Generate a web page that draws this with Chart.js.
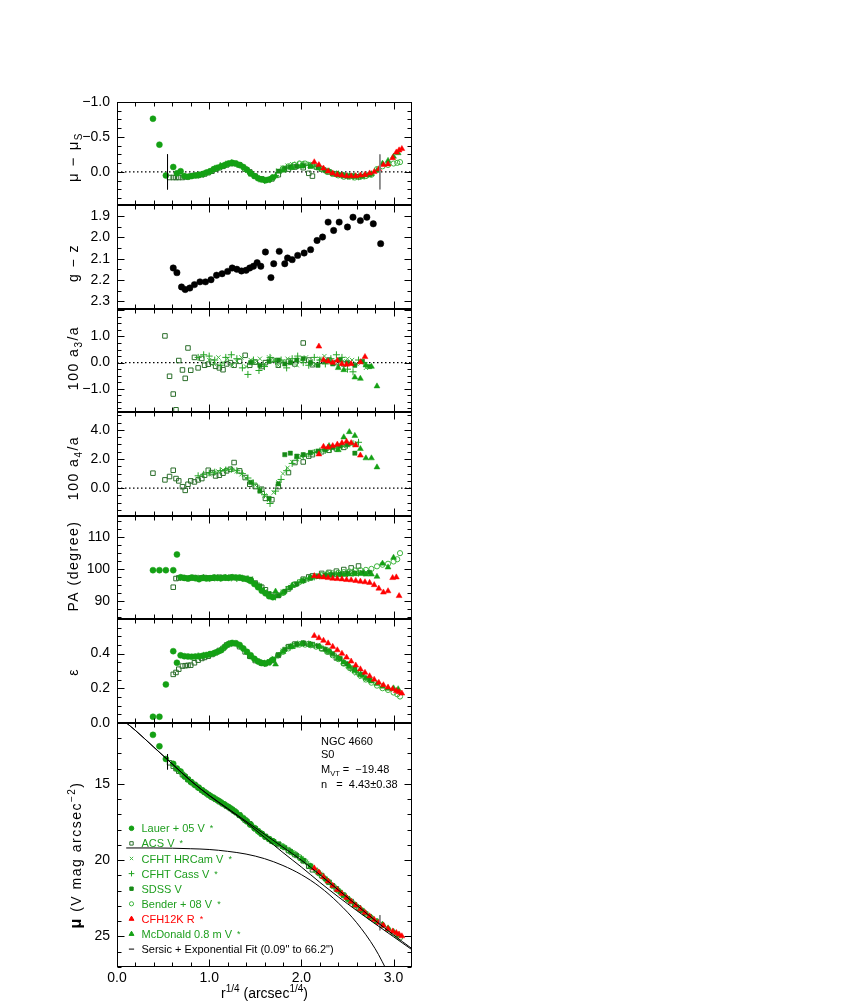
<!DOCTYPE html>
<html>
<head>
<meta charset="utf-8">
<script src="https://cdn.jsdelivr.net/npm/chart.js@4.4.0/dist/chart.umd.min.js"></script>
<style>
  html, body { margin: 0; background: #fff; }
  #wrap { position: relative; width: 850px; height: 1004px; }
</style>
</head>
<body>
<div id="wrap"><canvas id="c" width="850" height="1004"></canvas></div>
<script>
// ---- data (x = r^1/4 in arcsec^1/4) ----
// Lauer + 05 V
const lauerR   = [0.39,0.46,0.53,0.61,0.65,0.69,0.73,0.77,0.81,0.85,0.89,0.93,0.97,1.01,1.05,1.09,1.13,1.17,1.21,1.25,1.29,1.33,1.37,1.41,1.45,1.49,1.53,1.57,1.61,1.65,1.69];
const lauerMu  = [11.79,12.54,13.37,13.69,14.0,14.19,14.48,14.71,14.91,15.09,15.27,15.45,15.62,15.78,15.92,16.07,16.22,16.37,16.52,16.68,16.86,17.05,17.25,17.46,17.68,17.89,18.09,18.28,18.46,18.62,18.76];
const lauerRes = [-0.76,-0.39,0.05,-0.07,0.02,-0.01,0.06,0.07,0.06,0.05,0.04,0.03,0.01,-0.01,-0.04,-0.06,-0.08,-0.10,-0.12,-0.13,-0.12,-0.10,-0.07,-0.03,0.02,0.06,0.09,0.11,0.12,0.11,0.08];
const lauerPA  = [99.6,99.6,99.6,99.6,104.5,97.4,97.2,97.0,97.3,97.1,96.8,97.2,97.0,97.1,97.3,97.2,97.1,97.3,97.2,97.4,97.3,97.3,97.0,96.8,96.2,95.3,94.3,93.2,92.4,91.5,91.2];
const lauerEps = [0.035,0.035,0.222,0.414,0.347,0.39,0.385,0.383,0.382,0.383,0.385,0.388,0.392,0.397,0.402,0.41,0.42,0.44,0.455,0.462,0.46,0.45,0.43,0.41,0.39,0.37,0.355,0.345,0.343,0.35,0.365];

// ACS V
const acsR   = [0.39,0.52,0.57,0.61,0.64,0.67,0.71,0.74,0.77,0.80,0.84,0.88,0.92,0.95,0.99,1.03,1.07,1.11,1.15,1.19,1.23,1.27,1.33,1.39,1.44,1.50,1.57,1.61,1.68,1.75,1.86,1.93,2.02,2.08,2.12,2.22,2.30,2.38,2.46,2.54,2.62];
const acsMu  = [null,null,13.62,13.84,14.0,14.17,14.39,14.54,14.71,14.86,15.04,15.23,15.41,15.54,15.71,15.87,16.01,16.16,16.31,16.46,16.61,16.78,17.05,17.37,17.62,17.94,18.27,18.46,18.74,18.98,19.37,19.63,20.04,20.4,20.63,21.01,21.45,21.88,22.3,22.71,23.12];
const acsRes = [null,null,0.08,0.08,0.08,0.08,0.08,0.07,0.07,0.06,0.05,0.05,0.04,0.03,0.01,-0.01,-0.04,-0.06,-0.08,-0.10,-0.12,-0.12,-0.10,-0.04,0.0,0.06,0.10,0.12,0.10,0.04,-0.04,-0.07,-0.06,0.02,0.06,-0.04,0.0,0.03,0.05,0.06,0.07];
const acsA3  = [null,1.02,-0.52,-1.2,-1.8,0.08,-0.28,-0.6,0.56,-0.29,0.2,-0.2,0.16,-0.1,-0.06,0.02,-0.14,-0.2,-0.27,-0.05,0.0,-0.1,0.05,0.28,-0.1,0.02,-0.15,0.0,0.1,-0.1,0.05,-0.05,0.75,0.1,-0.08,0.05,0.1,0.0,-0.05,null,null];
const acsA4  = [1.03,0.57,0.8,1.23,0.66,0.5,0.1,-0.15,0.27,0.5,0.43,0.57,0.66,0.89,1.23,1.07,0.84,0.89,1.03,1.19,1.3,1.76,1.19,0.73,0.27,0.11,-0.07,-0.7,-0.79,0.11,1.07,1.76,1.8,2.2,2.3,2.5,2.6,2.7,2.8,null,null];
const acsPA  = [null,null,null,94.3,97.0,97.2,97.3,97.1,97.0,97.2,97.3,97.1,97.2,97.3,97.2,97.1,97.3,97.4,97.3,97.2,97.4,97.3,97.2,97.0,96.5,95.6,94.3,93.5,91.8,91.8,93.8,95.2,96.8,97.5,97.8,98.6,98.9,99.3,99.8,100.3,100.9];
const acsEps = [null,null,null,0.28,0.291,0.31,0.328,0.33,0.332,0.333,0.347,0.362,0.372,0.378,0.385,0.395,0.405,0.418,0.43,0.45,0.46,0.458,0.44,0.41,0.385,0.36,0.345,0.343,0.36,0.39,0.44,0.455,0.46,0.455,0.45,0.43,0.41,0.375,0.345,0.315,0.29];

// CFHT HRCam V
const hrcR   = [1.00,1.05,1.10,1.15,1.20,1.25,1.30,1.35,1.40,1.45,1.50,1.55,1.60,1.65,1.70,1.75,1.80,1.85,1.90,1.95,2.00,2.05,2.10,2.15,2.20,2.25,2.30,2.35,2.40,2.45,2.50,2.55,2.60,2.65,2.70];
const hrcMu  = [15.75,15.93,16.11,16.30,16.48,16.68,16.92,17.16,17.42,17.68,17.95,18.19,18.41,18.61,18.79,18.92,19.09,19.27,19.47,19.67,19.87,20.12,20.37,20.62,20.89,21.17,21.45,21.73,22.0,22.26,22.52,22.77,23.02,23.26,23.5];
const hrcRes = [0.0,-0.03,-0.07,-0.09,-0.12,-0.13,-0.11,-0.08,-0.03,0.02,0.07,0.10,0.11,0.10,0.06,-0.02,-0.06,-0.09,-0.11,-0.12,-0.13,-0.12,-0.11,-0.09,-0.06,-0.03,0.0,0.03,0.05,0.06,0.07,0.07,0.07,0.06,0.05];
const hrcA3  = [0.1,-0.05,0.2,0.0,0.15,-0.1,0.05,0.2,-0.15,0.1,0.0,0.15,-0.05,0.2,0.1,-0.1,0.05,0.15,0.0,-0.1,0.1,0.2,0.05,-0.05,0.15,0.25,0.1,0.0,-0.1,0.05,0.15,0.1,-0.05,0.0,-0.2];
const hrcA4  = [0.95,1.05,1.15,1.25,1.3,1.25,1.15,0.95,0.7,0.45,0.2,-0.1,-0.5,-0.8,-0.3,0.4,1.0,1.4,1.8,2.0,2.2,2.3,2.4,2.5,2.55,2.6,2.7,2.8,2.85,2.9,2.95,3.0,3.1,null,null];
const hrcPA  = [97.2,97.3,97.1,97.2,97.4,97.3,97.2,97.1,97.2,97.0,95.5,94.3,93.0,92.0,91.5,92.0,93.0,94.0,94.8,95.5,96.2,96.8,97.2,97.6,97.9,98.1,98.2,98.3,98.4,98.5,98.6,98.7,98.8,98.9,99.0];
const hrcEps = [0.395,0.402,0.413,0.428,0.447,0.458,0.455,0.435,0.41,0.385,0.362,0.35,0.345,0.355,0.375,0.395,0.418,0.435,0.448,0.455,0.46,0.46,0.456,0.45,0.44,0.425,0.41,0.392,0.372,0.35,0.328,0.305,0.285,0.265,0.247];

// CFHT Cass V
const cassR   = [0.88,0.94,1.00,1.06,1.12,1.18,1.24,1.30,1.36,1.42,1.48,1.54,1.60,1.66,1.72,1.78,1.84,1.90,1.96,2.02,2.08,2.14,2.20,2.26,2.32,2.38,2.44,2.50,2.56,2.62,2.68];
const cassMu  = [15.23,15.49,15.75,15.95,16.17,16.41,16.64,16.92,17.21,17.52,17.84,18.15,18.42,18.67,18.86,19.05,19.26,19.50,19.74,20.0,20.29,20.59,20.90,21.23,21.56,21.88,22.20,22.51,22.82,23.12,23.41];
const cassRes = [0.05,0.03,0.0,-0.05,-0.09,-0.11,-0.13,-0.11,-0.07,-0.02,0.05,0.10,0.12,0.11,0.05,-0.02,-0.06,-0.08,-0.09,-0.10,-0.09,-0.08,-0.05,-0.02,0.01,0.03,0.05,0.06,0.07,0.07,0.06];
const cassA3  = [0.2,0.3,0.25,0.1,-0.1,0.2,0.3,0.15,-0.2,-0.45,0.1,-0.3,-0.15,0.2,0.05,0.1,-0.2,0.15,0.25,0.0,-0.1,0.2,0.1,-0.05,0.15,0.3,0.2,-0.25,-0.35,0.1,0.0];
const cassA4  = [0.85,0.95,1.05,1.1,1.2,1.25,1.3,1.2,1.0,0.7,0.35,0.0,-0.45,-1.05,-0.2,0.6,1.2,1.7,2.05,2.2,2.35,2.45,2.55,2.6,2.7,2.75,2.85,2.95,3.05,3.15,null];
const cassPA  = [97.1,97.3,97.0,97.2,97.1,97.3,97.2,97.0,97.1,96.9,96.0,94.8,93.2,92.0,91.3,92.3,93.6,94.8,95.6,96.4,97.0,97.5,97.8,98.0,98.2,98.3,98.4,98.5,98.6,98.7,98.8];
const cassEps = [0.386,0.39,0.395,0.404,0.418,0.44,0.458,0.455,0.43,0.4,0.37,0.352,0.344,0.35,0.375,0.405,0.43,0.445,0.455,0.458,0.455,0.448,0.438,0.42,0.4,0.38,0.358,0.335,0.31,0.288,0.265];

// SDSS V
const sdssR   = [1.45,1.55,1.65,1.75,1.82,1.88,1.95,2.02,2.10,2.18,2.26,2.34,2.42,2.50,2.58,2.66,2.74];
const sdssMu  = [17.69,18.19,18.62,18.93,19.19,19.42,19.71,20.01,20.40,20.80,21.23,21.67,22.09,22.51,22.91,23.31,23.69];
const sdssRes = [0.03,0.10,0.11,-0.01,-0.05,-0.07,-0.08,-0.09,-0.08,-0.06,-0.02,0.02,0.04,0.06,0.06,0.06,0.04];
const sdssA3  = [0.0,-0.1,0.05,0.1,-0.05,0.0,0.1,0.15,0.0,-0.1,0.05,-0.05,0.1,0.0,-0.1,0.05,-0.15];
const sdssA4  = [0.4,-0.2,-0.7,0.3,2.3,2.4,2.2,2.3,2.45,2.55,2.65,2.8,2.9,3.0,2.4,null,null];
const sdssPA  = [96.8,94.7,92.3,91.6,93.0,94.2,95.3,96.3,97.1,97.7,98.0,98.2,98.4,98.6,98.7,98.8,98.9];
const sdssEps = [0.382,0.352,0.352,0.393,0.425,0.442,0.455,0.46,0.455,0.445,0.425,0.4,0.372,0.34,0.31,0.28,0.25];

// Bender + 08 V
const bendR   = [1.80,1.86,1.92,1.98,2.04,2.10,2.16,2.22,2.28,2.34,2.40,2.46,2.52,2.58,2.64,2.70,2.76,2.82,2.88,2.94,3.00,3.04,3.07];
const bendMu  = [19.10,19.33,19.56,19.80,20.07,20.38,20.69,21.01,21.35,21.68,22.00,22.32,22.62,22.93,23.22,23.51,23.79,24.01,24.25,24.52,24.78,24.95,25.08];
const bendRes = [-0.05,-0.08,-0.10,-0.12,-0.12,-0.10,-0.07,-0.04,0.0,0.03,0.05,0.07,0.07,0.08,0.07,0.06,0.04,-0.04,-0.08,-0.10,-0.12,-0.13,-0.14];
const bendPA  = [92.5,93.8,95.0,95.9,96.6,97.2,97.7,98.1,98.4,98.6,98.8,99.0,99.2,99.5,99.6,99.7,100.0,100.8,101.3,101.6,102.3,103.0,104.9];
const bendEps = [0.41,0.43,0.445,0.452,0.452,0.448,0.44,0.428,0.41,0.39,0.368,0.342,0.318,0.295,0.272,0.25,0.232,0.215,0.2,0.19,0.175,0.165,0.152];

// CFH12K R
const cfhR   = [2.14,2.19,2.24,2.29,2.34,2.39,2.44,2.49,2.54,2.59,2.64,2.69,2.74,2.79,2.84,2.89,2.94,2.99,3.03,3.06,3.09];
const cfhMu  = [20.53,20.80,21.10,21.39,21.67,21.94,22.20,22.46,22.71,22.96,23.20,23.44,23.67,23.90,24.10,24.28,24.51,24.66,24.76,24.86,24.98];
const cfhRes = [-0.14,-0.10,-0.05,-0.01,0.02,0.04,0.05,0.06,0.06,0.06,0.05,0.04,0.02,0.0,-0.04,-0.10,-0.11,-0.20,-0.28,-0.31,-0.33];
const cfhA3  = [null,0.62,0.1,0.05,0.0,0.08,-0.05,-0.07,-0.05,null,0.02,0.22,null,null,null,null,null,null,null,null,null];
const cfhA4  = [null,2.33,2.85,2.8,2.9,3.0,3.1,3.2,3.1,2.95,2.25,null,null,null,null,null,null,null,null,null,null];
const cfhPA  = [97.8,97.6,97.4,97.2,97.0,96.9,96.8,96.6,96.5,96.3,96.1,95.9,95.7,95.0,93.9,92.7,93.1,97.2,97.4,91.6,null];
const cfhEps = [0.503,0.49,0.475,0.46,0.44,0.42,0.4,0.378,0.355,0.332,0.31,0.29,0.27,0.25,0.232,0.218,0.205,0.195,0.185,0.178,0.17];

// McDonald 0.8 m V
const mcdR   = [1.72,1.80,1.90,2.00,2.10,2.20,2.30,2.40,2.46,2.52,2.58,2.64,2.70,2.76,2.82,2.88,2.94,3.00,3.05];
const mcdMu  = [18.87,19.13,19.52,19.92,20.40,20.90,21.44,21.98,22.30,22.61,22.91,23.21,23.50,23.78,24.03,24.21,24.46,24.68,24.90];
const mcdRes = [0.06,-0.02,-0.06,-0.08,-0.08,-0.05,-0.01,0.03,0.05,0.06,0.06,0.06,0.05,0.03,-0.02,-0.12,-0.16,-0.22,-0.27];
const mcdA3  = [null,null,null,null,null,null,0.05,-0.2,-0.28,null,-0.56,-0.61,-0.1,-0.15,-0.9,null,null,null,null];
const mcdA4  = [null,null,null,null,null,null,2.9,2.62,3.5,3.86,3.6,2.7,2.06,2.06,1.44,null,null,null,null];
const mcdPA  = [93.0,92.5,94.8,96.2,97.3,97.8,98.0,98.1,98.2,98.3,98.4,98.5,98.3,98.3,97.6,101.7,100.5,103.5,null];
const mcdEps = [0.338,0.41,0.44,0.455,0.452,0.44,0.415,0.375,0.35,0.325,0.3,0.278,0.258,0.24,0.225,0.21,0.198,0.2,0.195];

// g - z colour profile
const gzR = [0.61,0.65,0.70,0.74,0.79,0.84,0.90,0.96,1.02,1.08,1.14,1.20,1.25,1.30,1.35,1.40,1.44,1.48,1.52,1.56,1.61,1.67,1.70,1.76,1.82,1.85,1.90,1.96,2.03,2.10,2.17,2.23,2.29,2.35,2.41,2.50,2.56,2.64,2.71,2.78,2.86];
const gzVal = [2.143,2.165,2.232,2.244,2.237,2.221,2.208,2.208,2.198,2.177,2.170,2.159,2.143,2.149,2.157,2.154,2.143,2.135,2.118,2.135,2.068,2.188,2.123,2.065,2.123,2.096,2.104,2.084,2.073,2.057,2.014,1.998,1.928,1.967,1.928,1.951,1.905,1.921,1.905,1.936,2.029];

// fit curves (Sersic + exponential)
const fitR      = [0.1,0.2,0.4,0.6,0.8,1.0,1.2,1.4,1.6,1.8,2.0,2.2,2.4,2.6,2.8,3.0,3.2];
const fitTotal  = [11.0,11.5,12.6,13.7,14.8,15.75,16.6,17.45,18.3,19.15,20.0,20.95,21.95,22.95,23.95,24.9,25.8];
const fitSersic = [11.0,11.5,12.6,13.7,14.8,15.77,16.65,17.53,18.5,19.5,20.45,21.45,22.4,23.3,24.17,25.02,25.87];
const expR      = [0.1,0.4,0.8,1.0,1.2,1.4,1.6,1.8,2.0,2.2,2.4,2.6,2.8,2.95];
const fitExp    = [19.2,19.2,19.25,19.3,19.42,19.6,19.9,20.35,20.95,21.75,22.8,24.1,25.8,27.5];
const fitLimits = [0.548, 2.852];   // 0.09" and 66.2"
const resLimitSpan = [-0.25, 0.25];
const muInnerSpan = [13.05, 14.05];
const muOuterSpan = [23.6, 24.6];
const zeroR = [0, 3.2];

const GREEN = '#1e9e1e';
const C = {
  lauer: '#14a014', acs: '#2b6e2b', hrc: '#46b846', cass: '#24a424',
  sdss: '#178a17', bend: '#3cb43c', cfh: '#ff0000', mcd: '#14a014'
};

function pts(xs, ys) {
  const out = [];
  xs.forEach((x, i) => { if (ys[i] != null) out.push({x: x, y: ys[i]}); });
  return out;
}
function marks(label, xs, cols, style) {
  return Object.keys(cols).map(axis => Object.assign({
    label: label, xAxisID: 'x', yAxisID: axis, data: pts(xs, cols[axis]), showLine: false
  }, style));
}
function line(xs, ys, axis, extra) {
  return Object.assign({
    xAxisID: 'x', yAxisID: axis, data: pts(xs, ys), showLine: true,
    borderColor: '#000', borderWidth: 1, pointRadius: 0, fill: false
  }, extra || {});
}

const filled = (c, s, r) => ({pointStyle: s, pointRadius: r, backgroundColor: c, borderColor: c, borderWidth: 0.5});
const open = (c, s, r) => ({pointStyle: s, pointRadius: r, backgroundColor: 'rgba(0,0,0,0)', borderColor: c, borderWidth: 1});

const datasets = [
  line(fitR, fitTotal, 'yMu', {cubicInterpolationMode: 'monotone'}),
  line(fitR, fitSersic, 'yMu', {cubicInterpolationMode: 'monotone'}),
  line(expR, fitExp, 'yMu', {cubicInterpolationMode: 'monotone'}),
  line([fitLimits[0], fitLimits[0]], resLimitSpan, 'yRes'),
  line([fitLimits[1], fitLimits[1]], resLimitSpan, 'yRes', {borderColor: '#808080'}),
  line([fitLimits[0], fitLimits[0]], muInnerSpan, 'yMu'),
  line([fitLimits[1], fitLimits[1]], muOuterSpan, 'yMu', {borderColor: '#808080'}),
  ...marks('CFH12K R', cfhR, {yMu: cfhMu, yRes: cfhRes, yA3: cfhA3, yA4: cfhA4, yPA: cfhPA, yEps: cfhEps}, filled(C.cfh, 'triangle', 3.4)),
  ...marks('McDonald', mcdR, {yMu: mcdMu, yRes: mcdRes, yA3: mcdA3, yA4: mcdA4, yPA: mcdPA, yEps: mcdEps}, filled(C.mcd, 'triangle', 3.4)),
  ...marks('Lauer', lauerR, {yMu: lauerMu, yRes: lauerRes, yPA: lauerPA, yEps: lauerEps}, filled(C.lauer, 'circle', 3)),
  ...marks('SDSS', sdssR, {yMu: sdssMu, yRes: sdssRes, yA3: sdssA3, yA4: sdssA4, yPA: sdssPA, yEps: sdssEps}, filled(C.sdss, 'rect', 3)),
  ...marks('Cass', cassR, {yMu: cassMu, yRes: cassRes, yA3: cassA3, yA4: cassA4, yPA: cassPA, yEps: cassEps}, open(C.cass, 'cross', 3.5)),
  ...marks('HRCam', hrcR, {yMu: hrcMu, yRes: hrcRes, yA3: hrcA3, yA4: hrcA4, yPA: hrcPA, yEps: hrcEps}, open(C.hrc, 'crossRot', 3)),
  ...marks('Bender', bendR, {yMu: bendMu, yRes: bendRes, yPA: bendPA, yEps: bendEps}, open(C.bend, 'circle', 2.6)),
  ...marks('ACS', acsR, {yMu: acsMu, yRes: acsRes, yA3: acsA3, yA4: acsA4, yPA: acsPA, yEps: acsEps}, open(C.acs, 'rect', 3.2)),
  ...marks('g-z', gzR, {yGZ: gzVal}, filled('#000', 'circle', 3.2)),
  line(zeroR, [0, 0], 'yRes', {borderDash: [1.5, 2.5], borderWidth: 1.2}),
  line(zeroR, [0, 0], 'yA3', {borderDash: [1.5, 2.5], borderWidth: 1.2}),
  line(zeroR, [0, 0], 'yA4', {borderDash: [1.5, 2.5], borderWidth: 1.2})
];

const minus = v => (v < -1e-9 ? '\u2212' : '') + Math.abs(v).toFixed(1);
const tickFont = {size: 14, family: 'Liberation Sans'};
function yAxis(opts) {
  const t = Object.assign({padding: 7, autoSkip: false, includeBounds: false, color: '#000', font: tickFont}, opts.ticks);
  return Object.assign({
    type: 'linear', position: 'left', stack: 'panels', stackWeight: 1,
    grid: {display: false, drawTicks: false}, border: {display: false},
    afterFit: s => { s.width = 117; }
  }, opts, {ticks: t});
}

// bottom panel first: the last-declared stacked axis is placed on top
const scales = {
  x: {
    type: 'linear', position: 'bottom', min: 0, max: 3.2,
    grid: {display: false, drawTicks: false}, border: {display: false},
    ticks: {stepSize: 1, includeBounds: false, padding: 3, color: '#000', font: tickFont,
            callback: v => v.toFixed(1)},
    afterFit: s => { s.height = 37; }
  },
  yMu:  yAxis({min: 11, max: 27, reverse: true, stackWeight: 2.36, ticks: {stepSize: 5, callback: v => String(v)}}),
  yEps: yAxis({min: 0, max: 0.598, ticks: {stepSize: 0.2, callback: v => v.toFixed(1)}}),
  yPA:  yAxis({min: 84.3, max: 116.5, ticks: {stepSize: 10, callback: v => String(Math.round(v))}}),
  yA4:  yAxis({min: -1.9, max: 5.2, ticks: {stepSize: 2, callback: minus}}),
  yA3:  yAxis({min: -1.9, max: 2.05, ticks: {stepSize: 1, callback: v => (v > 1.5 ? '' : minus(v))}}),
  yGZ:  yAxis({min: 1.85, max: 2.335, reverse: true, ticks: {stepSize: 0.1, callback: v => v.toFixed(1)}}),
  yRes: yAxis({min: -1.0, max: 0.48, reverse: true, ticks: {stepSize: 0.5, callback: minus}})
};

const panelIds = ['yRes', 'yGZ', 'yA3', 'yA4', 'yPA', 'yEps', 'yMu'];
const minorStep = {yRes: 0.125, yGZ: 0.05, yA3: 0.25, yA4: 0.5, yPA: 2.5, yEps: 0.05, yMu: 1};

const framePlugin = {
  id: 'frames',
  afterDraw(chart) {
    const ctx = chart.ctx, ca = chart.chartArea, xs = chart.scales.x;
    const L = Math.round(ca.left) + 0.5, R = Math.round(ca.right) - 0.5;
    ctx.save();
    ctx.strokeStyle = '#000';
    ctx.lineWidth = 1;
    panelIds.forEach(id => {
      const s = chart.scales[id];
      const top = Math.round(s.top) + 0.5, bot = Math.round(s.bottom) - 0.5;
      ctx.strokeRect(L, top, R - L, bot - top);
      ctx.beginPath();
      for (let i = 1; i < 16; i++) {
        const px = Math.round(xs.getPixelForValue(i * 0.2)) + 0.5;
        const len = i % 5 === 0 ? 7 : 4;
        ctx.moveTo(px, top); ctx.lineTo(px, top + len);
        ctx.moveTo(px, bot); ctx.lineTo(px, bot - len);
      }
      const lo = Math.min(s.min, s.max), hi = Math.max(s.min, s.max), m = minorStep[id];
      for (let k = Math.ceil(lo / m - 1e-6); k * m <= hi + 1e-9; k++) {
        const v = k * m;
        const major = s.ticks.some(t => Math.abs(t.value - v) < 1e-6);
        const len = major ? 7 : 4;
        const py = Math.round(s.getPixelForValue(v)) + 0.5;
        ctx.moveTo(L, py); ctx.lineTo(L + len, py);
        ctx.moveTo(R, py); ctx.lineTo(R - len, py);
      }
      ctx.stroke();
    });
    ctx.restore();
  }
};

function rich(ctx, parts, x, y, align) {
  let w = 0;
  parts.forEach(p => { ctx.font = (p[3] || '') + ' ' + p[1] + 'px "Liberation Sans"'; w += ctx.measureText(p[0]).width; });
  let cx = align === 'center' ? x - w / 2 : x;
  parts.forEach(p => {
    ctx.font = (p[3] || '') + ' ' + p[1] + 'px "Liberation Sans"';
    ctx.fillText(p[0], cx, y + (p[2] || 0));
    cx += ctx.measureText(p[0]).width;
  });
}

const titles = [
  {parts: [['\u03bc \u2212 \u03bc', 15], ['S', 10, 4]], y: 157},
  {parts: [['g \u2212 z', 14]], y: 263},
  {parts: [['100 a', 14], ['3', 10, 4], ['/a', 14]], y: 358},
  {parts: [['100 a', 14], ['4', 10, 4], ['/a', 14]], y: 468},
  {parts: [['PA (degree)', 14]], y: 566},
  {parts: [['\u03b5', 14]], y: 672},
  {parts: [['\u03bc', 16, 0, 'bold'], [' (V mag arcsec', 14], ['\u22122', 10, -6], [')', 14]], y: 855, x: 81}
];

const legendRows = [
  {st: 'circle', r: 2.3, fill: C.lauer, stroke: C.lauer, col: GREEN, text: 'Lauer + 05 V', star: true},
  {st: 'rect', r: 2.4, fill: 'rgba(0,0,0,0)', stroke: C.acs, col: GREEN, text: 'ACS V', star: true},
  {st: 'crossRot', r: 2.3, fill: 'rgba(0,0,0,0)', stroke: C.hrc, col: GREEN, text: 'CFHT HRCam V', star: true},
  {st: 'cross', r: 2.8, fill: 'rgba(0,0,0,0)', stroke: C.cass, col: GREEN, text: 'CFHT Cass V', star: true},
  {st: 'rect', r: 2.4, fill: C.sdss, stroke: C.sdss, col: GREEN, text: 'SDSS V', star: false},
  {st: 'circle', r: 2.1, fill: 'rgba(0,0,0,0)', stroke: C.bend, col: GREEN, text: 'Bender + 08 V', star: true},
  {st: 'triangle', r: 2.8, fill: C.cfh, stroke: C.cfh, col: '#ff0000', text: 'CFH12K R', star: true},
  {st: 'triangle', r: 2.8, fill: C.mcd, stroke: C.mcd, col: GREEN, text: 'McDonald 0.8 m V', star: true},
  {st: 'line', r: 2.6, fill: '#000', stroke: '#000', col: '#000', text: 'Sersic + Exponential Fit (0.09" to 66.2")', star: false}
];

const textPlugin = {
  id: 'texts',
  afterDraw(chart) {
    const ctx = chart.ctx;
    ctx.save();
    ctx.fillStyle = '#000';
    ctx.textBaseline = 'alphabetic';
    ctx.letterSpacing = '1.5px';
    titles.forEach(t => {
      ctx.save();
      ctx.translate(t.x || 78, t.y);
      ctx.rotate(-Math.PI / 2);
      rich(ctx, t.parts, 0, 0, 'center');
      ctx.restore();
    });
    ctx.letterSpacing = '0px';
    rich(ctx, [['r', 14], ['1/4', 10, -6], [' (arcsec', 14], ['1/4', 10, -6], [')', 14]], 264.5, 998, 'center');

    // object info
    rich(ctx, [['NGC 4660', 11]], 321, 744.5, 'left');
    rich(ctx, [['S0', 11]], 321, 757.5, 'left');
    rich(ctx, [['M', 11], ['VT', 7.5, 3], [' =  \u221219.48', 11]], 321, 772.5, 'left');
    rich(ctx, [['n   =  4.43\u00b10.38', 11]], 321, 788, 'left');

    // legend
    legendRows.forEach((row, i) => {
      const y = 828.3 + i * 15.1;
      ctx.fillStyle = row.fill;
      ctx.strokeStyle = row.stroke;
      ctx.lineWidth = 1;
      Chart.helpers.drawPoint(ctx, {pointStyle: row.st, radius: row.r, borderWidth: 1, rotation: 0}, 131.5, y);
      ctx.fillStyle = row.col;
      const parts = [[row.text, 11]];
      if (row.star) parts.push(['  *', 9, -1]);
      rich(ctx, parts, 141.5, y + 4, 'left');
    });
    ctx.restore();
  }
};

Chart.defaults.font.family = 'Liberation Sans';
Chart.defaults.color = '#000';

new Chart(document.getElementById('c').getContext('2d'), {
  type: 'scatter',
  data: {datasets: datasets},
  options: {
    responsive: false,
    animation: false,
    devicePixelRatio: 1,
    layout: {padding: {top: 102, left: 0, right: 438, bottom: 0}},
    plugins: {legend: {display: false}, tooltip: {enabled: false}},
    scales: scales
  },
  plugins: [framePlugin, textPlugin]
});
</script>
</body>
</html>
